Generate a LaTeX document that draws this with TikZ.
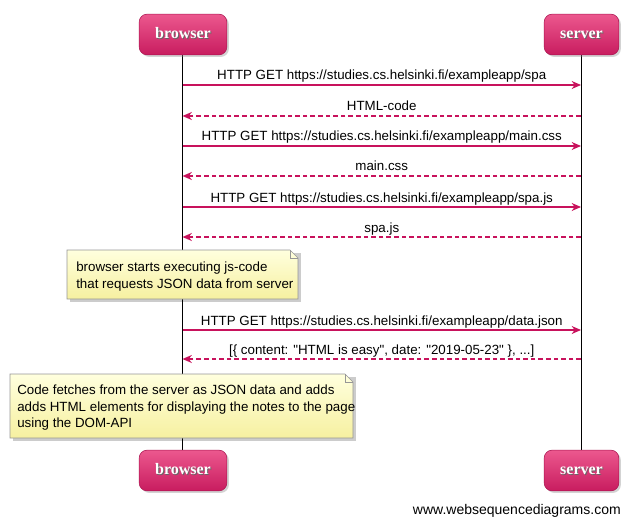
\documentclass[tikz,border=0pt]{standalone}
\usepackage{fontspec}
\setmainfont{Liberation Sans}[Ligatures=TeXOff]
\newfontfamily\actorfont{Liberation Serif}
\usetikzlibrary{arrows.meta,shadows}

\definecolor{wsdpink}{RGB}{200,28,95}
\definecolor{wsdpinklight}{RGB}{236,88,142}
\definecolor{wsdpinkdark}{RGB}{170,20,80}
\definecolor{wsdarrow}{RGB}{200,18,92}
\definecolor{wsdnotetop}{RGB}{255,255,222}
\definecolor{wsdnotebot}{RGB}{246,240,160}
\definecolor{wsdnoteline}{RGB}{150,150,150}

\newcommand{\shadowed}[1]{\makebox[0pt][l]{\hspace{0.7pt}\raisebox{-0.7pt}{\textcolor{black!60}{#1}}}#1}

\begin{document}
\begin{tikzpicture}[x=0.75pt,y=-0.75pt,
	actor/.style={rounded corners=6pt, draw=wsdpinkdark, top color=wsdpinklight, bottom color=wsdpink,
		text=white, font=\actorfont\bfseries\fontsize{12}{14}\selectfont,
		text height=8.2pt, text depth=2.6pt, inner ysep=9.9pt, inner xsep=12pt,
		drop shadow={shadow xshift=1.5pt, shadow yshift=-1.5pt, opacity=0.35}},
	life/.style={black, line width=0.75pt},
	msg/.style={wsdarrow, line width=1.1pt, -{Stealth[length=7pt,width=6pt]}},
	reply/.style={msg, dash pattern=on 3.5pt off 2.2pt},
	lbl/.style={font=\fontsize{10}{12}\selectfont, text=black, above, inner sep=1pt, text height=7.5pt, text depth=2.2pt},
	note/.style={draw=wsdnoteline, line width=0.5pt, top color=wsdnotetop, bottom color=wsdnotebot},
	noteshadow/.style={fill=black, opacity=0.2},
	notetext/.style={align=left, anchor=north west, inner sep=0pt, font=\fontsize{10}{12.4}\selectfont}
	]
	\useasboundingbox (0,0) rectangle (631,524);

	% lifelines
	\draw[life] (182.5,34.5) -- (182.5,470.5);
	\draw[life] (581,34.5) -- (581,470.5);

	% participants
	\node[actor] (bt) at (183,34.5) {\shadowed{browser}};
	\node[actor] (st) at (581.5,34.5) {\shadowed{server}};
	\node[actor] (bb) at (183,470.5) {\shadowed{browser}};
	\node[actor] (sb) at (581.5,470.5) {\shadowed{server}};

	% messages
	\coordinate (b1) at (182.5,85);  \coordinate (s1) at (581,85);
	\coordinate (b2) at (182.5,116); \coordinate (s2) at (581,116);
	\coordinate (b3) at (182.5,146); \coordinate (s3) at (581,146);
	\coordinate (b4) at (182.5,176); \coordinate (s4) at (581,176);
	\coordinate (b5) at (182.5,207); \coordinate (s5) at (581,207);
	\coordinate (b6) at (182.5,237); \coordinate (s6) at (581,237);
	\coordinate (b7) at (182.5,330); \coordinate (s7) at (581,330);
	\coordinate (b8) at (182.5,359); \coordinate (s8) at (581,359);

	\draw[msg] (b1) -- node[lbl] {HTTP GET https://studies.cs.helsinki.fi/exampleapp/spa} (s1);
	\draw[reply] (s2) -- node[lbl] {HTML-code} (b2);
	\draw[msg] (b3) -- node[lbl] {HTTP GET https://studies.cs.helsinki.fi/exampleapp/main.css} (s3);
	\draw[reply] (s4) -- node[lbl] {main.css} (b4);
	\draw[msg] (b5) -- node[lbl] {HTTP GET https://studies.cs.helsinki.fi/exampleapp/spa.js} (s5);
	\draw[reply] (s6) -- node[lbl] {spa.js} (b6);
	\draw[msg] (b7) -- node[lbl] {HTTP GET https://studies.cs.helsinki.fi/exampleapp/data.json} (s7);
	\draw[reply] (s8) -- node[lbl] {[\{ content: "HTML is easy", date: "2019-05-23" \}, ...]} (b8);

	% note 1
	\fill[noteshadow] (70,253) -- (301,253) -- (301,302) -- (70,302) -- cycle;
	\path[note] (67,250) -- (290,250) -- (298,258) -- (298,299) -- (67,299) -- cycle;
	\draw[wsdnoteline, line width=0.5pt] (290,250) -- (290,258) -- (298,258);
	\node[notetext] (n1) at (76,262) {browser starts executing js-code\\that requests JSON data from server};

	% note 2
	\fill[noteshadow] (13,377) -- (356,377) -- (356,441) -- (13,441) -- cycle;
	\path[note] (10,374) -- (345,374) -- (353,382) -- (353,438) -- (10,438) -- cycle;
	\draw[wsdnoteline, line width=0.5pt] (345,374) -- (345,382) -- (353,382);
	\node[notetext] (n2) at (17,385) {Code fetches from the server as JSON data and adds\\adds HTML elements for displaying the notes to the page\\using the DOM-API};

	\node[anchor=base east, inner sep=0pt, font=\fontsize{10.5}{12}\selectfont] (web) at (621,514) {www.websequencediagrams.com};
\end{tikzpicture}
\end{document}
